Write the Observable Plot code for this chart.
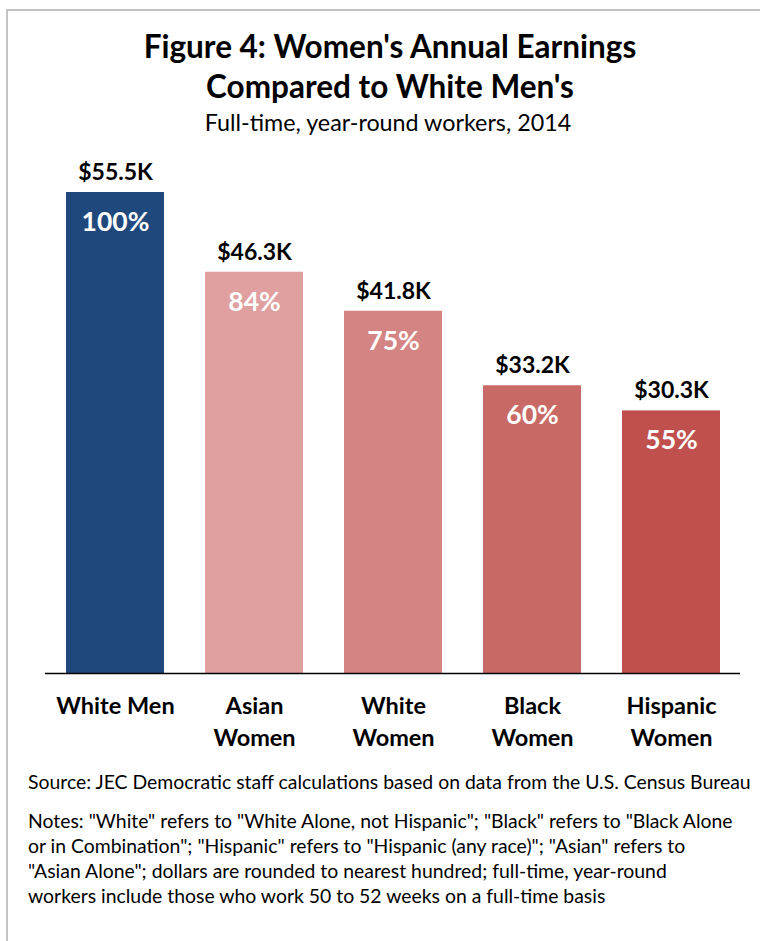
<!DOCTYPE html>
<html>
<head>
<meta charset="utf-8">
<script src="https://cdn.jsdelivr.net/npm/d3@7"></script>
<script src="https://cdn.jsdelivr.net/npm/@observablehq/plot@0.6"></script>
<style>
  html, body { margin: 0; padding: 0; background: #fff; }
  body { width: 760px; height: 941px; overflow: hidden; position: relative; font-family: Lato, "Open Sans", sans-serif; color: #000; }
  #frame { position: absolute; left: 6px; top: 9px; width: 800px; height: 1000px; border-top: 2px solid #c3c3c3; border-left: 2px solid #c3c3c3; }
  #title { position: absolute; top: 26px; left: 0; width: 780px; text-align: center; font-weight: bold; font-size: 31.5px; line-height: 40px; }
  #subtitle { position: absolute; top: 108px; left: 0; width: 776px; text-align: center; font-size: 23.3px; line-height: 28px; }
  #chart { position: absolute; top: 145px; left: 0; }
  #source { position: absolute; top: 769px; left: 28px; font-size: 19.4px; line-height: 25px; white-space: nowrap; }
  #notes { position: absolute; top: 808px; left: 28px; font-size: 19.4px; line-height: 25px; white-space: nowrap; }
</style>
</head>
<body>
<div id="frame"></div>
<div id="title">Figure 4: Women's Annual Earnings<br>Compared to White Men's</div>
<div id="subtitle">Full-time, year-round workers, 2014</div>
<div id="chart"></div>
<div id="source">Source: JEC Democratic staff calculations based on data from the U.S. Census Bureau</div>
<div id="notes">Notes: "White" refers to "White Alone, not Hispanic"; "Black" refers to "Black Alone<br>or in Combination"; "Hispanic" refers to "Hispanic (any race)"; "Asian" refers to<br>"Asian Alone"; dollars are rounded to nearest hundred; full-time, year-round<br>workers include those who work 50 to 52 weeks on a full-time basis</div>
<script>
const categories = ["White Men", "Asian\nWomen", "White\nWomen", "Black\nWomen", "Hispanic\nWomen"];
const earnings = [55.5, 46.3, 41.8, 33.2, 30.3];          // thousands of dollars
const percents = [100, 84, 75, 60, 55];                    // % of White Men's earnings
const colors = ["#1F497D", "#DFA09F", "#D48483", "#C96966", "#C0504D"];

const data = categories.map((c, i) => ({
  category: c,
  earnings: earnings[i],
  percent: percents[i],
  color: colors[i]
}));

const chart = Plot.plot({
  width: 760,
  height: 615,
  marginLeft: 45,
  marginRight: 20,
  marginTop: 8,
  marginBottom: 87,
  style: { fontFamily: "Lato, 'Open Sans', sans-serif", background: "transparent" },
  x: { domain: categories, paddingInner: 0.295, paddingOuter: 0.1475, label: null },
  y: { domain: [0, 60], axis: null },
  marks: [
    Plot.barY(data, { x: "category", y: "earnings", fill: "color" }),
    Plot.ruleY([0], { stroke: "#000", strokeWidth: 1.5 }),
    Plot.text(data, { x: "category", y: "earnings", text: d => `$${d.earnings.toFixed(1)}K`, dy: -20, fontSize: 23, fontWeight: "bold", fill: "#000" }),
    Plot.text(data, { x: "category", y: "earnings", text: d => `${d.percent}%`, dy: 30, fontSize: 26.5, fontWeight: "bold", fill: "#fff" }),
    Plot.axisX({ tickSize: 0, tickPadding: 18, fontSize: 23.5, fontWeight: "bold", lineHeight: 1.36, fill: "#000", label: null })
  ]
});
document.getElementById("chart").appendChild(chart);
</script>
</body>
</html>
